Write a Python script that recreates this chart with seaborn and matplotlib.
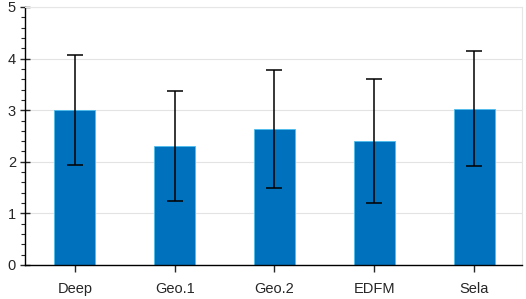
import numpy as np
import pandas as pd
import seaborn as sns
import matplotlib.pyplot as plt
from matplotlib.ticker import MultipleLocator

methods = ['Deep', 'Geo.1', 'Geo.2', 'EDFM', 'Sela']
means = [3.00, 2.31, 2.63, 2.41, 3.03]
errs = [1.07, 1.06, 1.14, 1.20, 1.12]

df = pd.DataFrame({'method': methods, 'score': means})

sns.set_style('white')
plt.rcParams['font.family'] = ['Liberation Sans', 'DejaVu Sans']

fig = plt.figure(figsize=(5.26, 2.99), dpi=100)
ax = fig.add_axes([25 / 526, 34 / 299, 497 / 526, 258 / 299])

sns.barplot(data=df, x='method', y='score', color='#0072BD', saturation=1,
            width=0.41, edgecolor='#4DBEEE', linewidth=0.6, errorbar=None, ax=ax)
ax.errorbar(np.arange(len(methods)), means, yerr=errs, fmt='none',
            ecolor='black', elinewidth=1.1, capsize=6, capthick=1.1, zorder=3)

ax.set_ylim(0, 5)
ax.set_xlim(-0.5, 4.48)
ax.yaxis.set_major_locator(MultipleLocator(1))
ax.yaxis.set_minor_locator(MultipleLocator(0.2))
ax.grid(axis='y', which='major', color='#e3e3e3', linewidth=0.8)
ax.set_axisbelow(True)
ax.set_xlabel('')
ax.set_ylabel('')

for s in ['top', 'right']:
    ax.spines[s].set_color('#e6e6e6')
    ax.spines[s].set_linewidth(0.8)
for s in ['left', 'bottom']:
    ax.spines[s].set_color('black')
    ax.spines[s].set_linewidth(1.0)

ax.tick_params(axis='y', which='major', direction='inout', length=7, width=1,
               labelsize=10.5, pad=3, left=True)
ax.tick_params(axis='y', which='minor', direction='out', length=3, width=0.8, left=True)
ax.tick_params(axis='x', which='major', direction='out', length=5, width=1,
               labelsize=10.5, pad=7, bottom=True)

fig.savefig('out.png', dpi=100)
